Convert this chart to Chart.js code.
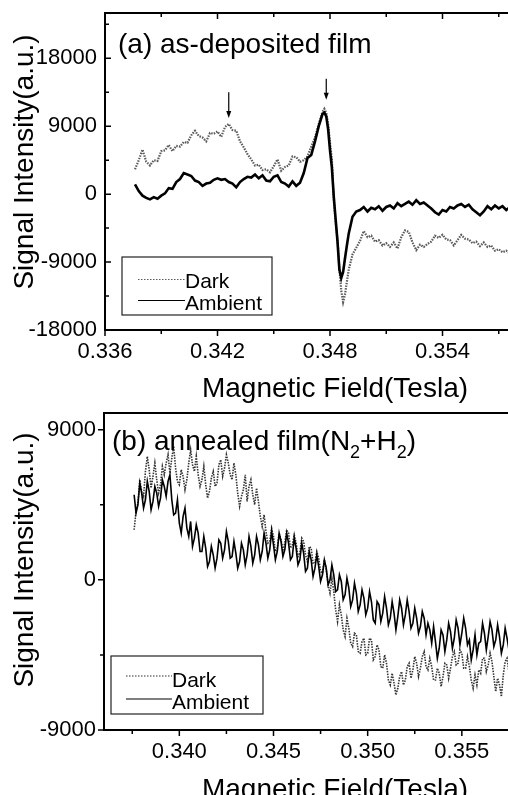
<!DOCTYPE html>
<html><head><meta charset="utf-8">
<script src="https://cdn.jsdelivr.net/npm/chart.js@4.4.1/dist/chart.umd.min.js"></script>
<style>
html,body{margin:0;padding:0;background:#fff;overflow:hidden;}
#wrap{position:relative;width:508px;height:795px;overflow:hidden;background:#fff;}
canvas{position:absolute;left:0;}
#ca{top:0;} #cb{top:400px;}
</style></head><body>
<div id="wrap"><canvas id="ca" width="560" height="410"></canvas><canvas id="cb" width="560" height="395"></canvas></div>
<script>
// ---------- data ----------
const seriesNames = ['Dark', 'Ambient'];

// Panel (a): as-deposited film
const fieldA = [
0.3376,0.3378,0.3380,0.3382,0.3384,0.3386,0.3388,0.3390,0.3392,0.3394,
0.3396,0.3398,0.3400,0.3402,0.3404,0.3406,0.3408,0.3410,0.3412,0.3414,
0.3416,0.3418,0.3420,0.3422,0.3424,0.3426,0.3428,0.3430,0.3432,0.3434,
0.3436,0.3438,0.3440,0.3442,0.3444,0.3446,0.3448,0.3450,0.3452,0.3454,
0.3456,0.3458,0.3460,0.3462,0.3464,0.3466,0.3468,
0.3470,0.3472,0.3474,0.3476,0.3477,0.3478,0.3479,0.3480,0.3481,0.3482,
0.3483,0.3484,0.3485,0.3486,0.3487,0.3488,0.3489,0.3490,
0.3492,0.3494,0.3496,0.3498,0.3500,0.3502,0.3504,0.3506,0.3508,0.3510,
0.3512,0.3514,0.3516,0.3518,0.3520,0.3522,0.3524,0.3526,0.3528,0.3530,
0.3532,0.3534,0.3536,0.3538,0.3540,0.3542,0.3544,0.3546,0.3548,0.3550,
0.3552,0.3554,0.3556,0.3558,0.3560,0.3562,0.3564,0.3566,0.3568,0.3570,
0.3572,0.3574,0.3576,0.3578];
const darkA = [
3300,4500,5900,4300,3800,4500,4400,5700,5800,6500,
5700,6400,6300,6900,6800,7800,8400,7700,7500,7000,
8100,8000,8300,7600,8900,9300,8500,8400,7000,6200,
5300,4600,3800,3900,3200,3300,2900,3700,4600,3100,
3600,3800,5000,4900,4300,4500,5000,
6300,7500,9300,10900,11300,10800,9300,6800,4600,-700,
-3700,-6000,-9800,-12800,-14300,-13300,-11600,-10000,
-8000,-7100,-6200,-4900,-5700,-5500,-6300,-6100,-6800,-6500,
-7000,-6400,-7200,-5700,-4800,-5000,-6400,-7400,-6700,-7000,
-6600,-6300,-5500,-5800,-5400,-6000,-6100,-6800,-6100,-5400,
-5900,-6000,-6500,-6300,-6900,-6400,-7000,-6800,-7500,-7300,
-7700,-7500,-7900,-7700];
const ambientA = [
1300,400,-200,-500,-700,-400,-600,-200,100,800,
700,1600,2000,2800,2600,2400,1800,1600,1100,1400,
1500,1900,2100,1900,2000,1600,1400,900,1600,2000,
2300,2200,2600,2100,2500,1800,1700,2300,2500,1600,
1400,1000,1700,1100,1500,2800,4800,
5200,7000,9000,10600,10800,10300,8600,5800,3500,-300,
-3300,-6300,-10000,-11100,-10300,-8500,-6800,-5200,
-3000,-2300,-2100,-1700,-2300,-1800,-2000,-1600,-2200,-1700,
-1500,-1900,-1200,-1600,-1300,-1000,-1400,-800,-1300,-1100,
-1500,-1900,-2400,-2700,-2100,-2300,-1700,-1900,-1500,-1300,
-1700,-1400,-2000,-2400,-2800,-2300,-1600,-2000,-1500,-1900,
-1600,-2100,-1700,-2000];
const xTicksA = [0.336, 0.342, 0.348, 0.354];
const xMinorA = [0.339, 0.345, 0.351, 0.357];
const yTicksA = [-18000, -9000, 0, 9000, 18000];
const yMinorA = [-13500, -4500, 4500, 13500, 22500];
const arrowFieldA = [0.3426, 0.3478];
const arrowTopA = [13500, 15300];
const arrowTipA = [10100, 12500];

// Panel (b): annealed film (N2+H2)
const fieldB = [
0.3376,0.3377,0.3378,0.3379,0.3380,0.3381,0.3382,0.3383,0.3384,0.3385,0.3386,0.3387,0.3388,0.3389,0.3390,0.3391,0.3392,0.3393,0.3394,0.3395,
0.3396,0.3397,0.3398,0.3399,0.3400,0.3401,0.3402,0.3403,0.3404,0.3405,0.3406,0.3407,0.3408,0.3409,0.3410,0.3411,0.3412,0.3413,0.3414,0.3415,
0.3416,0.3417,0.3418,0.3419,0.3420,0.3421,0.3422,0.3423,0.3424,0.3425,0.3426,0.3427,0.3428,0.3429,0.3430,0.3431,0.3432,0.3433,0.3434,0.3435,
0.3436,0.3437,0.3438,0.3439,0.3440,0.3441,0.3442,0.3443,0.3444,0.3445,0.3446,0.3447,0.3448,0.3449,0.3450,0.3451,0.3452,0.3453,0.3454,0.3455,
0.3456,0.3457,0.3458,0.3459,0.3460,0.3461,0.3462,0.3463,0.3464,0.3465,0.3466,0.3467,0.3468,0.3469,0.3470,0.3471,0.3472,0.3473,0.3474,0.3475,
0.3476,0.3477,0.3478,0.3479,0.3480,0.3481,0.3482,0.3483,0.3484,0.3485,0.3486,0.3487,0.3488,0.3489,0.3490,0.3491,0.3492,0.3493,0.3494,0.3495,
0.3496,0.3497,0.3498,0.3499,0.3500,0.3501,0.3502,0.3503,0.3504,0.3505,0.3506,0.3507,0.3508,0.3509,0.3510,0.3511,0.3512,0.3513,0.3514,0.3515,
0.3516,0.3517,0.3518,0.3519,0.3520,0.3521,0.3522,0.3523,0.3524,0.3525,0.3526,0.3527,0.3528,0.3529,0.3530,0.3531,0.3532,0.3533,0.3534,0.3535,
0.3536,0.3537,0.3538,0.3539,0.3540,0.3541,0.3542,0.3543,0.3544,0.3545,0.3546,0.3547,0.3548,0.3549,0.3550,0.3551,0.3552,0.3553,0.3554,0.3555,
0.3556,0.3557,0.3558,0.3559,0.3560,0.3561,0.3562,0.3563,0.3564,0.3565,0.3566,0.3567,0.3568,0.3569,0.3570,0.3571,0.3572,0.3573,0.3574,0.3575,
0.3576];
const darkB = [
3000,4100,4600,6000,5300,5000,6500,7400,6600,5500,6200,7000,6000,5200,5700,6800,6300,7000,7500,6400,
7300,8000,6700,5900,5700,6600,6200,5400,6000,7000,7800,6900,6500,7400,6300,5600,6000,6800,5700,4900,
5300,6100,6500,5600,5800,6900,7200,6200,6700,7500,7000,6300,6000,7000,6300,5200,4400,5000,5400,6300,
4700,5600,6000,5100,4500,5500,4700,3800,3200,3900,2900,2200,2300,3100,2600,1700,1900,2800,2400,1800,
2200,3000,2800,1900,2100,2700,2200,1400,1600,2500,2300,1500,1100,2000,1900,1000,1000,1700,1300,500,
400,1200,600,-300,-800,100,-700,-1800,-2500,-1500,-2100,-3000,-3400,-2300,-2900,-3800,-4000,-3200,-3300,-4300,
-4400,-3700,-3500,-4500,-4400,-3500,-3600,-4800,-4600,-3900,-4200,-5200,-5300,-4500,-5000,-6000,-6300,-5600,-6200,-6900,
-6500,-5800,-5500,-6300,-6000,-5200,-5000,-5900,-5400,-4600,-5000,-5800,-5300,-4600,-4300,-5200,-5400,-4700,-5200,-6000,
-6000,-5300,-5600,-6400,-5800,-5000,-5100,-5900,-5300,-4600,-4300,-5100,-5000,-4200,-4400,-5300,-5300,-4600,-5200,-6000,
-6500,-5700,-6300,-5400,-5600,-4700,-4700,-5500,-5100,-4400,-4900,-5800,-6700,-5900,-6300,-7000,-5700,-4900,-4700,-5500,
-5400];
const ambientB = [
5100,4000,4500,5800,5200,4300,4800,5900,5300,4200,4700,5600,5200,4400,4900,6000,5600,5000,5900,6300,
4800,3900,4000,4800,3400,2800,3800,4300,3100,2600,3500,2000,2500,3300,2800,1700,1700,2600,1900,800,
1100,2000,1500,700,1300,2400,2200,1300,1800,2900,2300,1300,1400,2300,1600,700,1100,2200,1800,900,
1500,2600,2000,1000,1500,2600,2100,1200,1700,2800,2200,1300,1800,2900,2100,1200,1700,2800,2300,1400,
1800,2800,2200,1200,1400,2500,1900,900,1200,2200,1600,500,700,1700,1200,200,700,1500,800,-100,
300,1200,700,-300,0,900,300,-700,-600,300,-100,-1200,-900,100,-500,-1600,-1200,-200,-800,-1900,
-1500,-600,-1100,-2100,-1700,-700,-1300,-2400,-2600,-1300,-1500,-2500,-2000,-1000,-1700,-2700,-2300,-1300,-2000,-3000,
-2200,-1200,-1700,-2700,-2100,-1200,-1900,-2900,-2600,-1700,-2300,-3200,-2800,-1900,-2300,-3300,-2600,-3000,-3800,-2800,
-3700,-4700,-4100,-3000,-3300,-4300,-3600,-2600,-3100,-4100,-3500,-2400,-2900,-3900,-3200,-2300,-2900,-3900,-3600,-4800,
-4200,-3300,-4500,-3800,-3700,-2600,-3200,-4200,-3400,-2500,-3000,-4000,-3600,-2700,-3400,-4400,-3900,-2900,-3500,-4200,
-3300];
const xTicksB = [0.340, 0.345, 0.350, 0.355];
const xMinorB = [0.3375, 0.3425, 0.3475, 0.3525, 0.3575];
const yTicksB = [-9000, 0, 9000];
const yMinorB = [-4500, 4500];

// ---------- drawing ----------
const FONT = '"Liberation Sans", Arial, Helvetica, sans-serif';

function decor(o) {
  return {
    id: 'decor',
    afterDatasetsDraw(chart) {
      const {ctx, chartArea: a, scales: {x, y}} = chart;
      ctx.save();
      ctx.strokeStyle = '#000';
      ctx.lineWidth = 1.5;
      ctx.setLineDash([]);
      ctx.beginPath();
      o.xMajor.forEach(v => { const p = x.getPixelForValue(v); ctx.moveTo(p, a.bottom); ctx.lineTo(p, a.bottom + 6); });
      o.xMinor.forEach(v => { const p = x.getPixelForValue(v); ctx.moveTo(p, a.bottom); ctx.lineTo(p, a.bottom + 4); });
      o.yMajor.forEach(v => { const p = y.getPixelForValue(v); ctx.moveTo(a.left, p); ctx.lineTo(a.left + o.yDir * 6, p); });
      o.yMinor.forEach(v => { const p = y.getPixelForValue(v); ctx.moveTo(a.left, p); ctx.lineTo(a.left + o.yDir * 4, p); });
      if (o.topTicks) {
        o.xMajor.forEach(v => { const p = x.getPixelForValue(v); ctx.moveTo(p, a.top); ctx.lineTo(p, a.top + 6); });
        o.xMinor.forEach(v => { const p = x.getPixelForValue(v); ctx.moveTo(p, a.top); ctx.lineTo(p, a.top + 4); });
      }
      ctx.stroke();
      ctx.lineWidth = 2;
      ctx.beginPath(); ctx.moveTo(a.left - 1, a.top); ctx.lineTo(a.right + 5, a.top); ctx.stroke();

      if (o.arrows) {
        const A = o.arrows;
        ctx.lineWidth = 1.2; ctx.fillStyle = '#000';
        A.field.forEach((f, i) => {
          const px = x.getPixelForValue(f);
          const y0 = y.getPixelForValue(A.top[i]);
          const y1 = y.getPixelForValue(A.tip[i]);
          ctx.beginPath(); ctx.moveTo(px, y0); ctx.lineTo(px, y1 - 5); ctx.stroke();
          ctx.beginPath(); ctx.moveTo(px - 2.5, y1 - 7); ctx.lineTo(px + 2.5, y1 - 7); ctx.lineTo(px, y1); ctx.closePath(); ctx.fill();
        });
      }

      const L = o.legend;
      ctx.fillStyle = '#fff';
      ctx.fillRect(L.x, L.y, L.w, L.h);
      ctx.strokeStyle = '#222'; ctx.lineWidth = 1.2;
      ctx.strokeRect(L.x, L.y, L.w, L.h);
      const ds = chart.data.datasets;
      const items = [ds[1], ds[0]];
      items.forEach((d, i) => {
        ctx.save();
        ctx.strokeStyle = d.borderColor; ctx.lineWidth = 1.2;
        ctx.setLineDash(d.borderDash ? [1.5, 1.5] : []);
        ctx.beginPath(); ctx.moveTo(L.sx0, L.ly[i]); ctx.lineTo(L.sx1, L.ly[i]); ctx.stroke();
        ctx.restore();
        ctx.fillStyle = '#000';
        ctx.font = '21px ' + FONT;
        ctx.textAlign = 'left'; ctx.textBaseline = 'alphabetic';
        ctx.fillText(d.label, L.sx1, L.ty[i]);
      });

      ctx.fillStyle = '#000';
      ctx.textAlign = 'left'; ctx.textBaseline = 'alphabetic';
      o.title(ctx);

      ctx.font = '28px ' + FONT;
      ctx.textAlign = 'center';
      ctx.fillText('Magnetic Field(Tesla)', o.xTitleX, o.xTitleY);
      ctx.save();
      ctx.translate(o.yTitleX, o.yTitleY);
      ctx.rotate(-Math.PI / 2);
      ctx.fillText('Signal Intensity(a.u.)', 0, 0);
      ctx.restore();
      ctx.restore();
    }
  };
}

function makeChart(id, field, dark, amb, o) {
  const pts = (xs, ys) => xs.map((v, i) => ({x: v, y: ys[i]}));
  return new Chart(document.getElementById(id), {
    type: 'line',
    data: {datasets: [
      {label: seriesNames[1], data: pts(field, amb), borderColor: '#000', borderWidth: o.ambW, pointRadius: 0, tension: 0, order: 0},
      {label: seriesNames[0], data: pts(field, dark), borderColor: o.darkColor, borderWidth: o.darkW, borderDash: o.darkDash, pointRadius: 0, tension: 0, order: 1}
    ]},
    options: {
      responsive: false, animation: false, devicePixelRatio: 1,
      layout: {padding: {top: 13, right: o.padRight, left: 0, bottom: 0}},
      plugins: {legend: {display: false}, tooltip: {enabled: false}},
      events: [],
      scales: {
        x: {
          type: 'linear', min: 0.336, max: 0.360,
          grid: {display: false, drawTicks: false},
          border: {display: true, color: '#000', width: 2},
          afterBuildTicks: s => { s.ticks = o.xMajor.map(v => ({value: v})); },
          afterFit: s => { s.height = o.xH; s.paddingLeft = 0; s.paddingRight = 0; s.paddingTop = 0; s.paddingBottom = 0; },
          ticks: {font: {family: FONT, size: 22}, color: '#000', padding: 9, maxRotation: 0, autoSkip: false,
                  callback: v => Number(v).toFixed(3)}
        },
        y: {
          type: 'linear', min: o.yMin, max: o.yMax,
          grid: {display: false, drawTicks: false},
          border: {display: true, color: '#000', width: 2},
          afterBuildTicks: s => { s.ticks = o.yMajor.map(v => ({value: v})); },
          afterFit: s => { s.width = o.yW; s.paddingLeft = 0; s.paddingRight = 0; s.paddingTop = 0; s.paddingBottom = 0; },
          ticks: {font: {family: FONT, size: 22}, color: '#000', padding: 8, autoSkip: false,
                  callback: v => String(v)}
        }
      }
    },
    plugins: [decor(o)]
  });
}

makeChart('ca', fieldA, darkA, ambientA, {
  xMajor: xTicksA, xMinor: xMinorA, yMajor: yTicksA, yMinor: yMinorA,
  yMin: -18000, yMax: 24000, yW: 105, xH: 80, padRight: 5, yDir: 1, topTicks: true,
  ambW: 2.6, darkW: 2.2, darkDash: [1.5, 1.2], darkColor: '#5a5a5a',
  arrows: {field: arrowFieldA, top: arrowTopA, tip: arrowTipA},
  legend: {x: 122, y: 257, w: 150, h: 58, sx0: 138, sx1: 185, ly: [279.5, 300.5], ty: [288, 310]},
  title: ctx => { ctx.font = '28px ' + FONT; ctx.fillText('(a) as-deposited film', 118, 53); },
  xTitleX: 335, xTitleY: 397, yTitleX: 33, yTitleY: 162
});

makeChart('cb', fieldB, darkB, ambientB, {
  xMajor: xTicksB, xMinor: xMinorB, yMajor: yTicksB, yMinor: yMinorB,
  yMin: -9000, yMax: 10000, yW: 104, xH: 65, padRight: 4, yDir: -1, topTicks: false,
  ambW: 1.6, darkW: 1.6, darkDash: [1.5, 1.2], darkColor: '#333333',
  legend: {x: 111, y: 256, w: 152, h: 58, sx0: 126, sx1: 172, ly: [276, 299], ty: [287, 309]},
  title: ctx => {
    let cx = 112; const by = 50;
    const big = '28px ' + FONT, small = '18px ' + FONT;
    const parts = [['(b) annealed film(N', big, 0], ['2', small, 8], ['+H', big, 0], ['2', small, 8], [')', big, 0]];
    parts.forEach(([t, f, dy]) => { ctx.font = f; ctx.fillText(t, cx, by + dy); cx += ctx.measureText(t).width; });
  },
  xTitleX: 335, xTitleY: 398, yTitleX: 33, yTitleY: 160
});
</script>
</body></html>
